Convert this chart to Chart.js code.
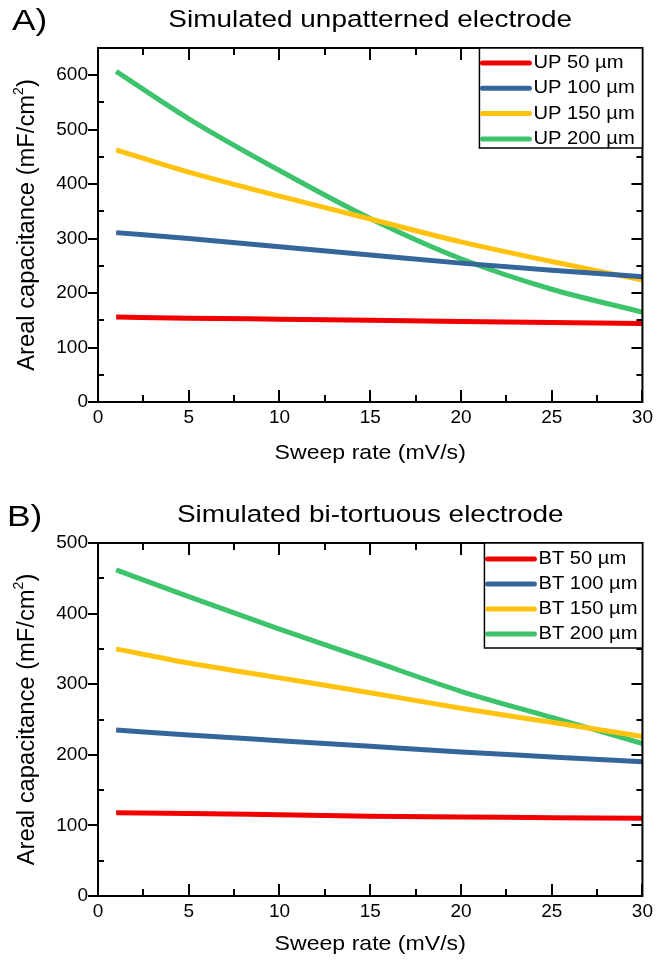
<!DOCTYPE html>
<html><head><meta charset="utf-8">
<script src="https://cdn.jsdelivr.net/npm/chart.js@4/dist/chart.umd.min.js"></script>
<style>
html,body{margin:0;padding:0;background:#fff;overflow:hidden;}
.wrap{position:absolute;left:0;width:657px;height:480px;}
#wa{top:0}#wb{top:480px}
canvas{display:block}
</style></head><body>
<div class="wrap" id="wa"><canvas id="ca" width="657" height="480"></canvas></div>
<div class="wrap" id="wb"><canvas id="cb" width="657" height="480"></canvas></div>
<script>
// ---- data ----
const sweepRates = [1, 5, 10, 15, 20, 25, 30];
const xTickValues = [0, 5, 10, 15, 20, 25, 30];

const labelsA = ['UP 50 µm', 'UP 100 µm', 'UP 150 µm', 'UP 200 µm'];
const up50  = [156, 154, 152, 150, 148, 146, 144];
const up100 = [311, 300, 285, 270, 255, 242, 230];
const up150 = [463, 422, 378, 336, 294, 258, 224];
const up200 = [607, 520, 425, 337, 263, 207, 165];

const labelsB = ['BT 50 µm', 'BT 100 µm', 'BT 150 µm', 'BT 200 µm'];
const bt50  = [118, 117, 115, 113, 112, 111, 110];
const bt100 = [235, 228, 220, 212, 204, 197, 190];
const bt150 = [350, 330, 309, 288, 266, 246, 226];
const bt200 = [462, 424, 378, 334, 290, 253, 216];

const seriesColors = ['#f00000', '#34669c', '#ffc20e', '#3dc36b'];
const FONT = '"Liberation Sans", Arial, sans-serif';

function stretchText(ctx, txt, x, y, size, sx, align) {
  ctx.save();
  ctx.translate(x, y);
  ctx.scale(sx, 1);
  ctx.font = size + 'px ' + FONT;
  ctx.fillStyle = '#000';
  ctx.textAlign = align || 'center';
  ctx.textBaseline = 'middle';
  ctx.fillText(txt, 0, 0);
  ctx.restore();
}

function makeChart(canvasId, cfg) {
  const datasets = cfg.series.map((vals, i) => ({
    label: cfg.labels[i],
    data: sweepRates.map((x, j) => ({ x: x, y: vals[j] })),
    borderColor: seriesColors[i],
    backgroundColor: seriesColors[i],
    borderWidth: 5,
    pointRadius: 0,
    tension: 0.3,
    cubicInterpolationMode: 'monotone',
    fill: false
  }));

  const decor = {
    id: 'decor',
    afterDraw(chart) {
      const ctx = chart.ctx;
      const a = chart.chartArea;
      const xs = chart.scales.x, ys = chart.scales.y;
      ctx.save();
      // frame
      ctx.strokeStyle = '#000';
      ctx.lineWidth = 2;
      ctx.strokeRect(a.left, a.top, a.right - a.left, a.bottom - a.top);
      // x ticks (inside, bottom & top)
      for (let v = 0; v <= 30.001; v += 2.5) {
        const major = Math.abs(v % 5) < 1e-6;
        const L = major ? 12 : 7;
        const px = Math.round(xs.getPixelForValue(v));
        ctx.beginPath();
        ctx.moveTo(px, a.bottom); ctx.lineTo(px, a.bottom - L);
        ctx.moveTo(px, a.top); ctx.lineTo(px, a.top + L);
        ctx.stroke();
      }
      // y ticks
      for (let v = 0; v <= cfg.ymax + 0.001; v += 50) {
        const major = v % 100 === 0;
        const py = Math.round(ys.getPixelForValue(v));
        ctx.beginPath();
        if (major) {
          ctx.moveTo(a.left - 10, py); ctx.lineTo(a.left, py);
          ctx.moveTo(a.right, py); ctx.lineTo(a.right - 11, py);
        } else {
          ctx.moveTo(a.left, py); ctx.lineTo(a.left + 6, py);
          ctx.moveTo(a.right, py); ctx.lineTo(a.right - 6, py);
        }
        ctx.stroke();
      }
      // legend box
      const bx = a.right - cfg.legendW, by = a.top;
      ctx.fillStyle = '#fff';
      ctx.fillRect(bx, by, cfg.legendW, cfg.legendH);
      ctx.lineWidth = 1.5;
      ctx.strokeRect(bx, by, cfg.legendW, cfg.legendH);
      chart.data.datasets.forEach((ds, i) => {
        const ry = by + cfg.legendRow0 + i * cfg.legendGap;
        ctx.strokeStyle = ds.borderColor;
        ctx.lineWidth = 5;
        ctx.lineCap = 'round';
        ctx.beginPath();
        ctx.moveTo(bx + 3, ry); ctx.lineTo(bx + 50, ry);
        ctx.stroke();
        stretchText(ctx, ds.label, bx + 54, ry, 18, 1.12, 'left');
      });
      ctx.lineCap = 'butt';
      // titles
      const cx = (a.left + a.right) / 2;
      stretchText(ctx, cfg.title, cx, cfg.titleY, 24.5, 1.14, 'center');
      stretchText(ctx, cfg.panel, cfg.panelX, cfg.panelY, 30, 1.18, 'left');
      stretchText(ctx, 'Sweep rate (mV/s)', cx, a.bottom + cfg.xTitleOff, 21, 1.1, 'center');
      // y title with superscript
      ctx.save();
      ctx.translate(27, (a.top + a.bottom) / 2);
      ctx.rotate(-Math.PI / 2);
      ctx.scale(1.08, 1.1);
      ctx.fillStyle = '#000';
      ctx.textBaseline = 'middle';
      ctx.textAlign = 'left';
      const s1 = 'Areal capacitance (mF/cm', s2 = '2', s3 = ')';
      const f1 = '22px ' + FONT, f2 = '13px ' + FONT;
      ctx.font = f1; const w1 = ctx.measureText(s1).width, w3 = ctx.measureText(s3).width;
      ctx.font = f2; const w2 = ctx.measureText(s2).width;
      let x0 = -(w1 + w2 + w3) / 2;
      ctx.font = f1; ctx.fillText(s1, x0, 0);
      ctx.font = f2; ctx.fillText(s2, x0 + w1, -7);
      ctx.font = f1; ctx.fillText(s3, x0 + w1 + w2, 0);
      ctx.restore();
      ctx.restore();
    }
  };

  return new Chart(document.getElementById(canvasId), {
    type: 'line',
    data: { datasets },
    options: {
      responsive: false,
      animation: false,
      layout: { padding: { top: cfg.padTop, right: 12, left: 0, bottom: 0 } },
      plugins: { legend: { display: false }, tooltip: { enabled: false }, title: { display: false } },
      scales: {
        x: {
          type: 'linear', min: 0, max: 30,
          grid: { display: false, tickLength: 0, drawTicks: false }, border: { display: false },
          afterBuildTicks: s => { s.ticks = xTickValues.map(v => ({ value: v })); },
          ticks: { font: { size: 19, family: FONT }, color: '#000', padding: 4, maxRotation: 0 },
          afterFit: s => { s.height = cfg.xHeight; }
        },
        y: {
          type: 'linear', min: 0, max: cfg.ymax,
          grid: { display: false, tickLength: 0, drawTicks: false }, border: { display: false },
          afterBuildTicks: s => { s.ticks = cfg.yTicks.map(v => ({ value: v })); },
          ticks: { font: { size: 19, family: FONT }, color: '#000', padding: 10 },
          afterFit: s => { s.width = 98; }
        }
      }
    },
    plugins: [decor]
  });
}

makeChart('ca', {
  labels: labelsA, series: [up50, up100, up150, up200],
  ymax: 650, yTicks: [0, 100, 200, 300, 400, 500, 600],
  padTop: 48, xHeight: 78,
  legendW: 163, legendH: 100, legendRow0: 15, legendGap: 25.3,
  title: 'Simulated unpatterned electrode', titleY: 20,
  panel: 'A)', panelX: 12, panelY: 22, xTitleOff: 51
});
makeChart('cb', {
  labels: labelsB, series: [bt50, bt100, bt150, bt200],
  ymax: 500, yTicks: [0, 100, 200, 300, 400, 500],
  padTop: 63, xHeight: 64,
  legendW: 158, legendH: 105, legendRow0: 16, legendGap: 25,
  title: 'Simulated bi-tortuous electrode', titleY: 35,
  panel: 'B)', panelX: 7, panelY: 38, xTitleOff: 48
});
</script>
</body></html>
